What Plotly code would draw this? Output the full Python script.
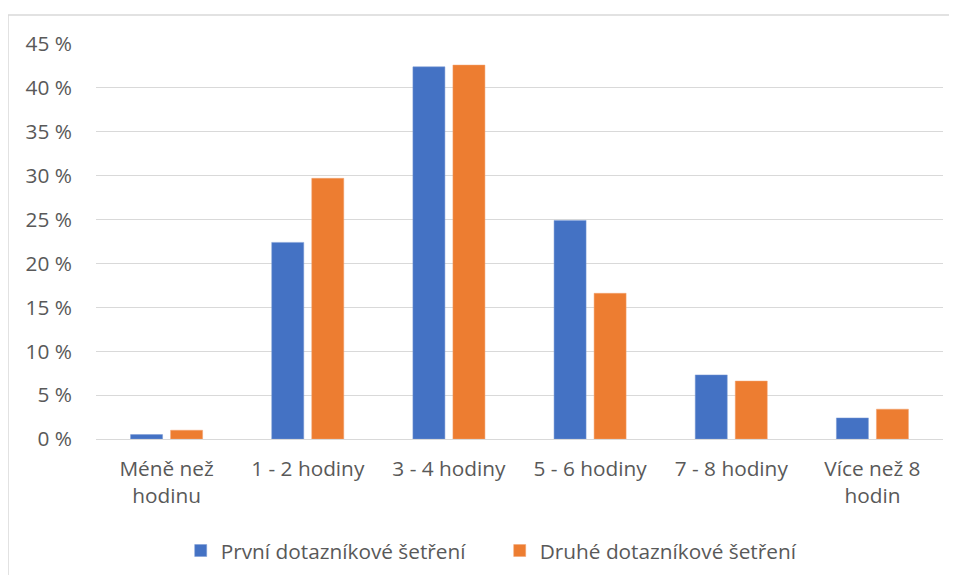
import plotly.graph_objects as go

categories = ["Méně než<br>hodinu", "1 - 2 hodiny", "3 - 4 hodiny", "5 - 6 hodiny", "7 - 8 hodiny", "Více než 8<br>hodin"]
series1_name = "První dotazníkové šetření"
series2_name = "Druhé dotazníkové šetření"
series1 = [0.5, 22.4, 42.4, 24.9, 7.3, 2.4]
series2 = [1.0, 29.7, 42.6, 16.6, 6.6, 3.4]
y_ticks = [0, 5, 10, 15, 20, 25, 30, 35, 40, 45]
y_tick_labels = [f"{v} %" for v in y_ticks]

FONT = "Open Sans, Calibri, sans-serif"
TXT = "#595959"
FS = 20.8

fig = go.Figure()
fig.add_trace(go.Bar(x=categories, y=series1, name=series1_name,
                     marker=dict(color="#4472C4", line=dict(color="#7b9ad4", width=0.5))))
fig.add_trace(go.Bar(x=categories, y=series2, name=series2_name,
                     marker=dict(color="#ED7D31", line=dict(color="#f2a370", width=0.5))))

# page has an 8px body margin, so the figure is sized/placed to compensate
fig.update_layout(
    width=941, height=567,
    margin=dict(l=88, r=6, t=36, b=136, autoexpand=False),
    paper_bgcolor="white", plot_bgcolor="white",
    barmode="group", bargap=0.433, bargroupgap=0.2,
    font=dict(family=FONT, size=FS, color=TXT),
    showlegend=True,
    legend=dict(orientation="h", x=0.1, xanchor="left", y=-0.2835, yanchor="middle",
                font=dict(family=FONT, size=FS, color=TXT), entrywidth=274,
                itemwidth=30, traceorder="normal"),
    xaxis=dict(showgrid=False, showline=True, linecolor="#D9D9D9", linewidth=1,
               ticks="", tickfont=dict(family=FONT, size=FS, color=TXT),
               ticklabelstandoff=11),
    yaxis=dict(range=[0, 45], tickmode="array", tickvals=y_ticks, ticktext=y_tick_labels,
               showgrid=True, gridcolor="#D9D9D9", gridwidth=1, zeroline=False,
               showline=False, ticks="", tickfont=dict(family=FONT, size=FS, color=TXT),
               ticklabelstandoff=23),
    shapes=[
        dict(type="line", xref="paper", yref="paper", x0=-88/847, x1=1.02, y0=(431 - 7) / 395, y1=(431 - 7) / 395,
             line=dict(color="#D9D9D9", width=1.5)),
        dict(type="line", xref="paper", yref="paper", x0=-88/847, x1=-88/847, y0=(431 - 7) / 395, y1=-0.4,
             line=dict(color="#D9D9D9", width=1.5)),
    ],
)

fig.write_html("out.html")
